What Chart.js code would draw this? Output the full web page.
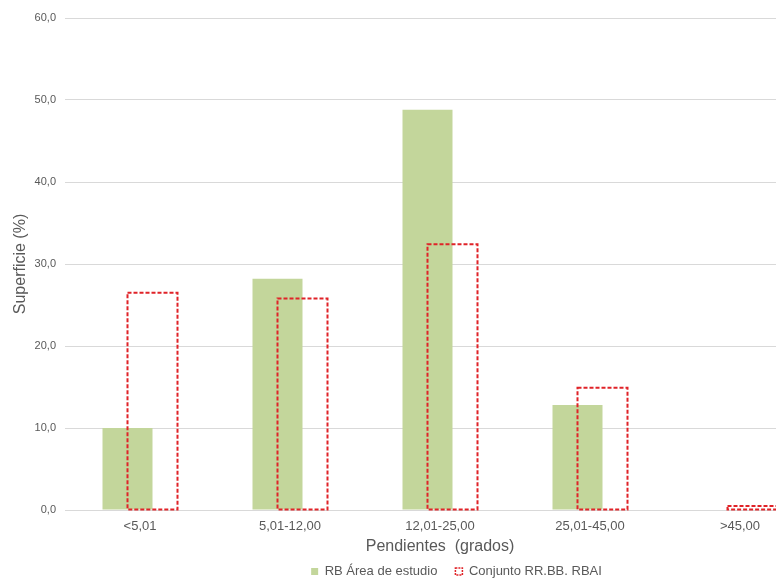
<!DOCTYPE html>
<html>
<head>
<meta charset="utf-8">
<script src="https://cdn.jsdelivr.net/npm/chart.js@4"></script>
<style>
    html, body { margin: 0; padding: 0; background: #fff; overflow: hidden; }
    #wrap { width: 830px; height: 578px; position: relative; }
</style>
</head>
<body>
<div id="wrap"><canvas id="slopeChart"></canvas></div>
<script>
// Chart data
const categories = ['<5,01', '5,01-12,00', '12,01-25,00', '25,01-45,00', '>45,00'];
const studyArea = [10.0, 28.2, 48.8, 12.8, 0.0];
const reserveSet = [26.5, 25.8, 32.4, 14.9, 0.5];
const yTicks = [0, 10, 20, 30, 40, 50, 60];

const seriesNames = ['RB Área de estudio', 'Conjunto RR.BB. RBAI'];

// Colours
const green = '#c3d69b';
const red = '#e02328';
const textGray = '#595959';
const gridGray = '#d9d9d9';
const fontFamily = '"Liberation Sans", Arial, sans-serif';

// Format tick as "10,0"
function formatTick(value) {
    return value.toFixed(1).replace('.', ',');
}

// Draw the dashed outline of the second series
const dashedOutline = {
    id: 'dashedOutline',
    afterDatasetsDraw(chart) {
        const meta = chart.getDatasetMeta(1);
        const ctx = chart.ctx;
        ctx.save();
        ctx.strokeStyle = red;
        ctx.lineWidth = 2;
        ctx.setLineDash([4, 2]);
        meta.data.forEach(bar => {
            const { x, y, base, width } = bar.getProps(['x', 'y', 'base', 'width'], true);
            ctx.strokeRect(x - width / 2, y, width, base - y);
        });
        ctx.restore();
    }
};

// Nudge legend to the right, like the original
const legendShift = {
    id: 'legendShift',
    afterLayout(chart) {
        if (chart.legend) {
            chart.legend.left += 49;
            chart.legend.right += 49;
        }
    }
};

const ctx = document.getElementById('slopeChart').getContext('2d');

new Chart(ctx, {
    type: 'bar',
    data: {
        labels: categories,
        datasets: [{
            label: seriesNames[0],
            data: studyArea,
            backgroundColor: green,
            borderWidth: 0,
            categoryPercentage: 1 / 3,
            barPercentage: 2
        }, {
            label: seriesNames[1],
            data: reserveSet,
            backgroundColor: 'rgba(0,0,0,0)',
            borderWidth: 0,
            categoryPercentage: 1 / 3,
            barPercentage: 2
        }]
    },
    options: {
        responsive: true,
        maintainAspectRatio: false,
        animation: false,
        layout: {
            padding: { top: 18, right: 15, left: 0, bottom: -10 }
        },
        scales: {
            x: {
                afterFit(scale) {
                    scale.height = 37;
                },
                grid: { display: false, drawTicks: false },
                border: { display: true, color: gridGray },
                ticks: {
                    color: textGray,
                    padding: 9,
                    font: { family: fontFamily, size: 13 },
                    maxRotation: 0
                },
                title: {
                    display: true,
                    text: 'Pendientes  (grados)',
                    color: textGray,
                    font: { family: fontFamily, size: 16 },
                    padding: { top: 0, bottom: -9 }
                }
            },
            y: {
                min: 0,
                max: 60,
                afterBuildTicks(scale) {
                    scale.ticks = yTicks.map(v => ({ value: v }));
                },
                afterFit(scale) {
                    scale.width = 65;
                },
                grid: { color: gridGray, drawTicks: false },
                border: { display: false },
                ticks: {
                    color: textGray,
                    padding: 9,
                    font: { family: fontFamily, size: 11 },
                    callback: value => formatTick(value)
                },
                title: {
                    display: true,
                    text: 'Superficie (%)',
                    color: textGray,
                    font: { family: fontFamily, size: 16 },
                    padding: { top: 11, bottom: 0 }
                }
            }
        },
        plugins: {
            legend: {
                position: 'bottom',
                labels: {
                    color: textGray,
                    font: { family: fontFamily, size: 13 },
                    boxWidth: 7,
                    boxHeight: 7,
                    padding: 18,
                    generateLabels: function(chart) {
                        return [{
                            text: seriesNames[0],
                            fillStyle: green,
                            strokeStyle: green,
                            lineWidth: 0,
                            fontColor: textGray,
                            datasetIndex: 0
                        }, {
                            text: seriesNames[1],
                            fillStyle: '#ffffff',
                            strokeStyle: red,
                            lineWidth: 1.5,
                            lineDash: [2, 1],
                            fontColor: textGray,
                            datasetIndex: 1
                        }];
                    }
                }
            },
            tooltip: { enabled: false }
        }
    },
    plugins: [dashedOutline, legendShift]
});
</script>
</body>
</html>
